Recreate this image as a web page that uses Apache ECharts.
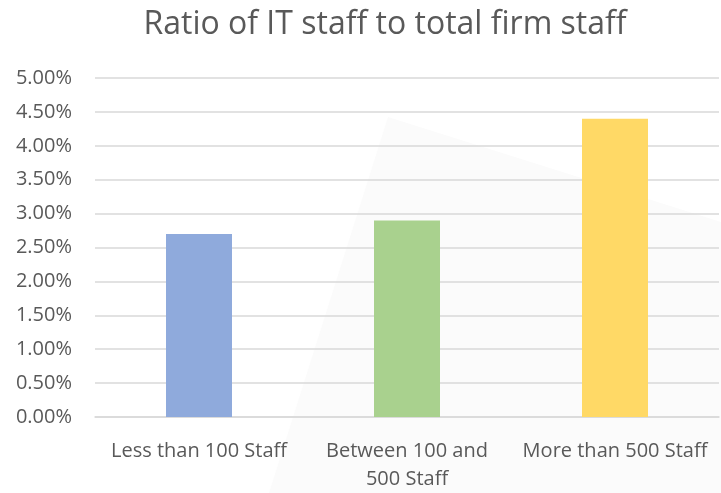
<!DOCTYPE html>
<html>
<head>
<meta charset="utf-8">
<script src="https://cdn.jsdelivr.net/npm/echarts@6/dist/echarts.min.js"></script>
<style>
  html, body { margin: 0; padding: 0; background: #fff; }
  #chart { width: 721px; height: 493px; }
</style>
</head>
<body>
<div id="chart"></div>
<script>
// data
var categories = ['Less than 100 Staff', 'Between 100 and\n500 Staff', 'More than 500 Staff']
var ratios = [2.70, 2.90, 4.40]
var barColors = ['#8faadc', '#a9d18e', '#ffd966']

var myChart = echarts.init(document.getElementById('chart'))
var option = {
  backgroundColor: '#ffffff',
  textStyle: { fontFamily: 'Open Sans' },
  title: {
    text: 'Ratio of IT staff to total firm staff',
    left: 380,
    textAlign: 'center',
    top: 4,
    textStyle: {
      color: '#595959',
      fontSize: 32,
      fontWeight: 'normal',
      fontFamily: 'Open Sans'
    }
  },
  // faint light shape behind the plot
  graphic: [{
    type: 'polygon',
    z: -10,
    shape: { points: [[388, 117], [721, 222], [721, 493], [269, 493]] },
    style: { fill: '#fbfbfb' }
  }],
  grid: {
    left: 95,
    right: 2,
    top: 78,
    bottom: 73
  },
  xAxis: {
    type: 'category',
    data: categories,
    axisLine: { show: true, lineStyle: { color: '#d9d9d9', width: 1.5 } },
    axisTick: { show: false },
    axisLabel: {
      color: '#595959',
      fontSize: 20,
      margin: 20,
      lineHeight: 28,
      interval: 0
    }
  },
  yAxis: {
    type: 'value',
    min: 0,
    max: 5,
    interval: 0.5,
    axisLine: { show: false },
    axisTick: { show: false },
    splitLine: { lineStyle: { color: '#d9d9d9', width: 1.5 } },
    axisLabel: {
      color: '#595959',
      fontSize: 20,
      margin: 23,
      formatter: function (v) { return v.toFixed(2) + '%' }
    }
  },
  series: [{
    type: 'bar',
    data: ratios.map(function (v, i) {
      return { value: v, itemStyle: { color: barColors[i] } }
    }),
    barWidth: 66
  }]
}
myChart.setOption(option)
</script>
</body>
</html>
